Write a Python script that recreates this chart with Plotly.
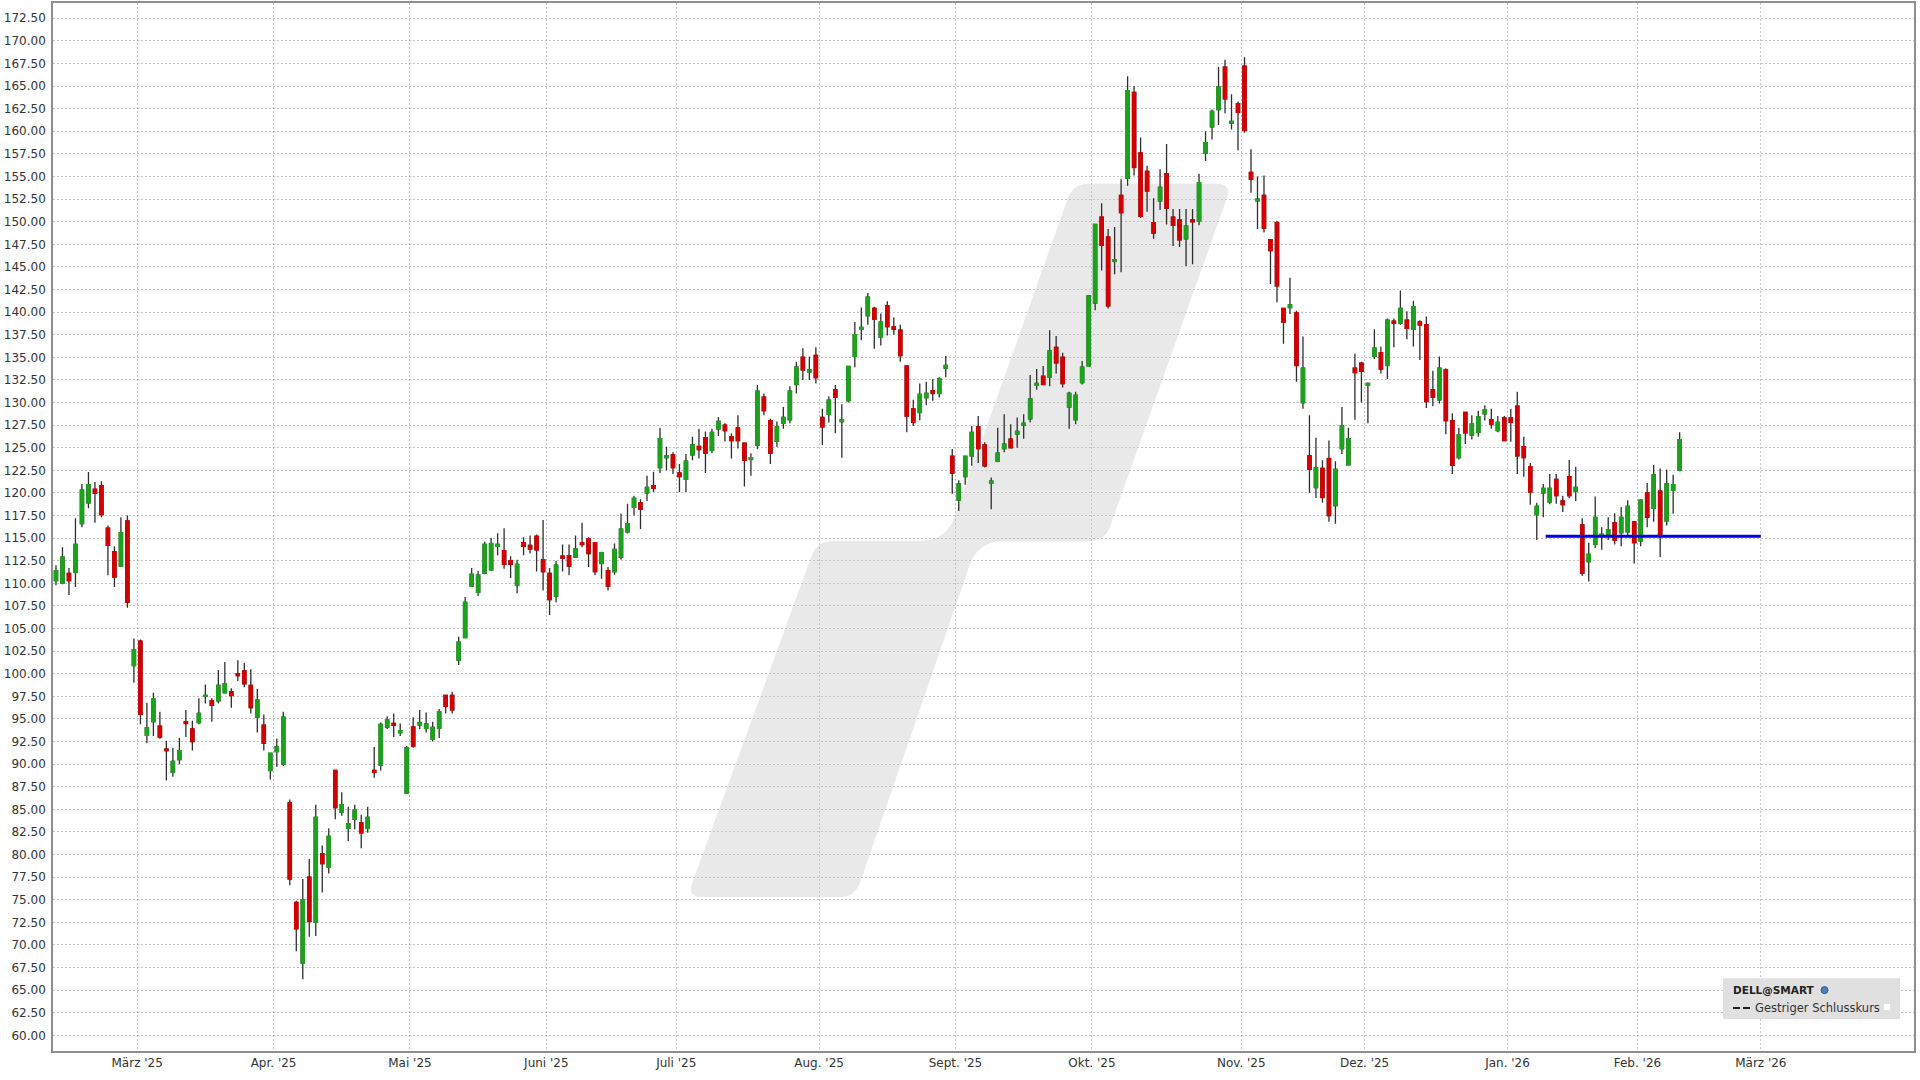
import math

import pandas as pd
import plotly.graph_objects as go


FIRST_DAY = "2025-02-11"
LAST_DAY = "2026-02-10"
HOLIDAYS = [
    "2025-02-17", "2025-04-18", "2025-05-26", "2025-06-19", "2025-07-04",
    "2025-09-01", "2025-11-27", "2025-12-25", "2026-01-01", "2026-01-19",
    "2026-02-16", "2026-04-03",
]

OPEN = [
    110.3, 110.0, 111.1, 111.2, 116.6, 118.9, 120.4, 120.8, 116.1, 113.5,
    111.9, 116.9, 100.9, 103.6, 93.2, 94.7, 94.2, 91.65, 89.1, 90.5,
    94.7, 93.9, 94.6, 97.5, 97.0, 97.0, 97.9, 98.0, 100.0, 100.3,
    98.7, 95.2, 94.3, 89.3, 91.4, 90.0, 85.7, 74.7, 68.0, 77.5,
    72.5, 80.1, 78.6, 89.3, 84.7, 82.9, 83.9, 83.5, 82.9, 89.3,
    89.9, 94.1, 94.5, 93.5, 86.8, 94.1, 94.35, 93.97, 92.76, 93.97,
    97.6, 97.6, 101.5, 104.0, 109.7, 109.0, 111.1, 111.5, 114.1, 113.6,
    112.5, 109.8, 114.5, 114.2, 115.2, 112.6, 111.1, 108.6, 113.0, 113.05,
    112.9, 114.5, 114.9, 114.5, 112.2, 111.4, 111.3, 112.9, 115.7, 118.4,
    118.9, 120.0, 120.8, 122.8, 123.9, 124.2, 122.2, 121.5, 124.2, 125.15,
    126.1, 124.7, 127.1, 127.5, 126.2, 127.2, 125.5, 123.7, 125.3, 130.6,
    128.0, 125.7, 127.7, 128.1, 132.0, 135.0, 133.4, 135.2, 128.35, 128.7,
    131.4, 127.9, 130.2, 135.1, 138.1, 139.6, 140.4, 137.2, 140.7, 138.35,
    138.0, 134.05, 129.3, 128.9, 130.55, 131.3, 131.0, 133.8, 124.05, 119.2,
    121.8, 124.1, 127.3, 125.3, 121.1, 123.5, 124.9, 125.95, 126.5, 127.5,
    128.2, 131.9, 132.9, 132.8, 136.1, 135.0, 129.5, 128.1, 132.2, 134.05,
    141.0, 150.5, 148.3, 145.6, 152.9, 154.8, 164.3, 157.6, 155.55, 149.9,
    152.3, 155.3, 150.5, 150.2, 148.1, 150.2, 150.1, 157.6, 160.5, 162.4,
    167.1, 160.9, 163.05, 167.2, 155.45, 152.3, 152.9, 148.0, 149.9, 140.4,
    140.5, 139.9, 130.0, 124.1, 120.6, 122.7, 123.8, 118.6, 124.9, 123.1,
    133.8, 134.35, 131.9, 135.1, 135.5, 134.1, 139.0, 138.75, 139.1, 138.1,
    138.9, 138.6, 131.4, 130.3, 133.6, 128.0, 123.9, 128.9, 126.4, 126.7,
    128.75, 128.1, 126.9, 128.3, 128.3, 129.6, 125.1, 122.9, 117.6, 120.0,
    119.0, 121.5, 119.1, 121.8, 120.2, 116.45, 112.4, 114.3, 115.2, 115.35,
    116.7, 115.6, 115.7, 116.8, 114.7, 120.0, 118.3, 120.2, 116.9, 120.3,
    122.5,
]
HIGH = [
    112.0, 114.0, 111.7, 117.2, 121.0, 122.3, 121.2, 121.3, 116.4, 114.1,
    117.3, 117.5, 103.9, 103.8, 96.8, 97.9, 95.8, 92.6, 91.8, 92.9,
    96.0, 94.8, 97.3, 98.8, 97.3, 100.4, 101.3, 98.4, 101.5, 101.2,
    100.5, 98.3, 95.5, 91.2, 92.8, 95.8, 86.1, 74.9, 77.3, 79.5,
    85.5, 81.0, 82.9, 89.3, 86.9, 85.3, 85.5, 84.4, 85.3, 91.9,
    94.6, 95.3, 95.6, 94.5, 92.0, 95.2, 96.0, 95.7, 94.7, 96.1,
    97.6, 98.0, 104.1, 108.5, 111.7, 111.4, 114.6, 115.0, 115.55, 116.1,
    113.0, 112.6, 115.1, 115.3, 115.4, 117.0, 111.7, 112.5, 114.3, 114.3,
    115.3, 116.7, 115.1, 114.5, 113.5, 111.8, 114.4, 117.7, 118.8, 119.7,
    119.3, 121.9, 122.35, 127.2, 125.1, 124.5, 123.2, 124.3, 126.2, 127.1,
    126.8, 127.1, 128.4, 127.7, 126.6, 128.6, 125.5, 124.4, 131.95, 131.0,
    128.2, 127.9, 129.5, 131.8, 134.5, 136.0, 135.1, 136.1, 129.3, 130.7,
    131.95, 129.8, 134.0, 138.9, 140.5, 142.1, 140.6, 139.85, 141.2, 139.4,
    138.6, 134.05, 130.3, 132.1, 132.3, 132.6, 132.8, 135.15, 124.85, 121.4,
    124.05, 127.4, 128.5, 125.6, 121.7, 127.2, 128.7, 127.6, 128.35, 128.7,
    133.05, 133.7, 134.05, 138.0, 137.35, 135.5, 131.2, 131.2, 134.6, 141.8,
    149.7, 152.05, 149.2, 149.4, 154.7, 166.1, 165.0, 159.3, 156.2, 152.6,
    155.8, 158.6, 151.4, 151.4, 151.4, 151.4, 155.3, 160.0, 162.4, 167.1,
    167.9, 164.1, 163.3, 168.2, 158.0, 155.0, 155.1, 148.0, 150.1, 140.4,
    143.8, 140.15, 137.3, 128.6, 126.1, 123.6, 125.8, 123.5, 129.5, 127.2,
    135.4, 134.5, 132.2, 138.1, 136.2, 139.3, 139.3, 142.4, 140.1, 141.25,
    139.1, 139.5, 133.5, 135.1, 133.8, 128.8, 127.2, 128.9, 128.6, 129.1,
    129.7, 129.3, 128.5, 128.5, 129.3, 131.2, 126.2, 123.3, 118.9, 121.0,
    122.1, 122.1, 119.7, 123.65, 122.9, 117.2, 114.5, 119.6, 116.2, 117.3,
    117.75, 118.45, 119.2, 116.9, 119.3, 121.1, 123.1, 122.7, 122.6, 122.0,
    126.7,
]
LOW = [
    109.8, 109.9, 108.7, 109.6, 116.2, 118.3, 116.7, 117.3, 110.9, 109.6,
    111.9, 107.3, 99.0, 94.4, 92.3, 93.1, 92.8, 88.2, 88.6, 90.0,
    93.0, 91.5, 94.4, 96.7, 94.7, 96.7, 97.8, 96.25, 99.2, 98.5,
    95.6, 93.5, 91.5, 88.3, 89.7, 89.8, 76.6, 69.3, 66.2, 70.9,
    71.0, 75.8, 77.9, 83.9, 84.3, 81.5, 82.8, 80.7, 82.4, 88.5,
    89.3, 93.9, 93.0, 93.1, 86.7, 91.8, 93.9, 93.5, 92.5, 92.9,
    95.6, 95.6, 100.96, 104.0, 109.7, 108.6, 111.0, 111.5, 113.1, 111.6,
    110.6, 108.9, 113.1, 113.3, 111.3, 109.2, 106.5, 107.9, 111.3, 110.9,
    112.9, 114.0, 111.8, 110.9, 110.5, 109.2, 110.96, 112.6, 115.5, 117.5,
    116.0, 119.1, 120.1, 122.2, 122.5, 122.1, 120.1, 120.1, 123.6, 123.8,
    122.2, 124.4, 126.3, 125.7, 123.8, 124.9, 120.7, 121.9, 124.85, 128.6,
    123.2, 125.1, 127.1, 127.7, 131.0, 132.5, 132.5, 132.1, 125.3, 127.8,
    126.6, 123.9, 130.0, 133.9, 136.9, 138.6, 135.95, 136.3, 137.4, 137.5,
    134.5, 126.7, 127.4, 128.05, 129.7, 130.2, 130.55, 132.8, 119.9, 118.0,
    120.9, 123.0, 123.3, 122.8, 118.2, 123.4, 124.5, 125.0, 125.0, 126.0,
    127.8, 131.4, 132.0, 131.8, 133.2, 131.65, 127.1, 127.6, 132.0, 134.05,
    140.2, 144.6, 140.4, 144.2, 144.4, 153.97, 155.1, 150.4, 151.1, 148.1,
    151.3, 149.7, 147.3, 147.2, 145.1, 145.3, 149.6, 156.7, 159.1, 160.7,
    162.0, 160.2, 157.9, 159.85, 153.2, 149.2, 148.8, 143.1, 141.1, 136.5,
    139.8, 132.3, 129.3, 120.0, 119.45, 118.9, 116.8, 116.6, 124.3, 123.05,
    128.1, 130.0, 127.7, 134.8, 133.2, 132.6, 136.1, 138.6, 137.0, 136.2,
    134.7, 129.4, 129.6, 129.9, 126.5, 122.1, 123.7, 125.4, 125.9, 126.2,
    128.0, 127.1, 126.7, 125.75, 125.65, 122.1, 121.8, 118.7, 114.8, 117.3,
    118.75, 118.8, 117.9, 119.4, 119.1, 110.8, 110.2, 113.9, 113.7, 114.8,
    114.3, 114.1, 115.2, 112.2, 114.1, 116.2, 116.8, 112.9, 116.4, 117.7,
    122.4,
]
CLOSE = [
    111.4, 112.9, 110.3, 114.3, 120.3, 120.9, 119.95, 117.6, 114.2, 110.7,
    115.6, 107.9, 102.65, 95.5, 94.0, 97.2, 93.0, 91.5, 90.3, 91.5,
    94.5, 92.5, 95.6, 97.6, 96.5, 98.7, 98.9, 97.6, 99.8, 98.9,
    96.25, 97.1, 92.3, 91.2, 91.9, 95.2, 77.3, 71.8, 75.0, 72.6,
    84.1, 79.0, 82.0, 85.2, 85.5, 83.4, 84.9, 82.4, 84.1, 89.1,
    94.4, 94.9, 94.3, 93.7, 91.8, 92.0, 94.6, 94.45, 94.05, 95.8,
    96.4, 96.0, 103.5, 107.9, 111.0, 110.9, 114.3, 114.4, 114.3, 112.1,
    112.1, 112.1, 114.1, 113.8, 113.7, 111.3, 108.2, 112.0, 112.8, 111.9,
    113.8, 114.3, 113.3, 111.3, 113.4, 109.7, 113.75, 116.0, 116.6, 119.4,
    118.2, 120.6, 120.5, 126.0, 124.1, 122.8, 121.8, 123.5, 125.3, 124.8,
    124.4, 126.7, 127.9, 126.9, 125.8, 125.8, 123.6, 123.9, 131.25, 129.1,
    124.4, 127.3, 128.35, 131.25, 133.9, 133.6, 133.6, 132.75, 127.3, 130.25,
    130.6, 128.1, 134.0, 137.5, 138.3, 141.65, 139.2, 138.9, 138.4, 138.1,
    135.2, 128.5, 127.8, 130.9, 131.0, 131.0, 132.6, 134.1, 122.2, 121.0,
    124.05, 126.7, 124.9, 123.0, 121.3, 124.4, 125.4, 125.0, 126.8, 127.7,
    130.4, 132.1, 132.0, 135.7, 134.4, 132.1, 131.0, 130.8, 133.9, 141.8,
    149.7, 147.4, 140.7, 145.8, 151.0, 164.5, 156.0, 150.6, 153.4, 148.75,
    153.8, 151.5, 149.6, 148.0, 149.5, 150.0, 154.3, 158.75, 162.2, 164.9,
    163.6, 161.1, 162.1, 160.1, 154.7, 152.5, 149.3, 146.8, 142.9, 138.9,
    140.8, 134.1, 133.8, 122.6, 122.8, 119.5, 117.5, 122.6, 127.4, 126.0,
    133.3, 133.45, 132.1, 136.0, 133.7, 139.1, 138.75, 140.4, 138.2, 140.6,
    138.6, 130.1, 130.6, 133.8, 128.0, 123.05, 126.4, 126.65, 127.6, 128.4,
    129.2, 127.6, 127.8, 125.8, 127.8, 124.1, 123.9, 120.1, 118.5, 120.5,
    120.5, 119.7, 118.7, 119.7, 120.6, 111.1, 113.2, 117.3, 115.4, 115.9,
    114.8, 117.3, 118.5, 114.5, 119.2, 117.3, 122.0, 115.4, 121.0, 120.9,
    125.9,
]

# Gestriger Schlusskurs (blaue Linie)
LEVEL = 115.2
LEVEL_FROM = "2026-01-09 21:00"
LEVEL_TO = "2026-03-02 00:00"

MONTH_TICKS = [
    "2025-03-03", "2025-04-01", "2025-05-01", "2025-06-02", "2025-07-01",
    "2025-08-01", "2025-09-02", "2025-10-01", "2025-11-03", "2025-12-01",
    "2026-01-02", "2026-02-02", "2026-03-02",
]
MONTH_LABELS = [
    "März '25", "Apr. '25", "Mai '25", "Juni '25", "Juli '25", "Aug. '25",
    "Sept. '25", "Okt. '25", "Nov. '25", "Dez. '25", "Jan. '26", "Feb. '26",
    "März '26",
]

# ── Stil ────────────────────────────────────────────────────────────────────

GREEN = "#1ba31b"
RED = "#d40000"
WICK = "#2e2e2e"
GRID = "#c2c2c2"
AXIS = "#8f8f8f"
FONT = "DejaVu Sans"

# Plotfläche in Pixeln (für Wasserzeichen / Legendenbox)
PLOT_L, PLOT_R, PLOT_T, PLOT_B = 53, 1914, 1, 1051


def px(x):
    return (x - PLOT_L) / (PLOT_R - PLOT_L)


def py(y):
    return (PLOT_B - y) / (PLOT_B - PLOT_T)


def rounded_path(pts, radii):
    """Polygon (Pixel) mit abgerundeten Ecken -> SVG-Pfad in Paper-Koordinaten."""
    cmds = []
    n = len(pts)
    for i in range(n):
        x, y = pts[i]
        r = radii[i]
        ax, ay = pts[i - 1]
        bx, by = pts[(i + 1) % n]
        la = math.hypot(ax - x, ay - y)
        lb = math.hypot(bx - x, by - y)
        ix, iy = x + (ax - x) * r / la, y + (ay - y) * r / la
        ox, oy = x + (bx - x) * r / lb, y + (by - y) * r / lb
        cmds.append(("L" if cmds else "M") + f"{px(ix):.5f},{py(iy):.5f}")
        cmds.append(f"Q{px(x):.5f},{py(y):.5f} {px(ox):.5f},{py(oy):.5f}")
    return " ".join(cmds) + " Z"


# ── Figur ───────────────────────────────────────────────────────────────────

dates = pd.bdate_range(FIRST_DAY, LAST_DAY, freq="C", holidays=HOLIDAYS) + pd.Timedelta(hours=12)
body_top = [max(o, c) for o, c in zip(OPEN, CLOSE)]
body_bot = [min(o, c) for o, c in zip(OPEN, CLOSE)]

fig = go.Figure()

# Dochte (schwarz)
fig.add_trace(go.Candlestick(
    x=dates, open=OPEN, high=HIGH, low=LOW, close=CLOSE,
    increasing=dict(line=dict(color=WICK, width=1.3), fillcolor=WICK),
    decreasing=dict(line=dict(color=WICK, width=1.3), fillcolor=WICK),
    hoverinfo="skip", showlegend=False,
))
# Kerzenkörper (grün / rot)
fig.add_trace(go.Candlestick(
    x=dates, open=OPEN, high=body_top, low=body_bot, close=CLOSE,
    increasing=dict(line=dict(color=GREEN, width=1.4), fillcolor=GREEN),
    decreasing=dict(line=dict(color=RED, width=1.4), fillcolor=RED),
    showlegend=False, name="DELL",
))
fig.add_trace(go.Scatter(
    x=[LEVEL_FROM, LEVEL_TO], y=[LEVEL, LEVEL], mode="lines",
    line=dict(color="#0000e6", width=3), showlegend=False, hoverinfo="skip",
))

# Wasserzeichen
watermark = [(687, 897), (855, 897), (978, 540), (1105, 540),
             (1232, 182), (1073, 182), (946, 540), (817, 540)]
fig.add_shape(
    type="path", xref="paper", yref="paper",
    path=rounded_path(watermark, [16, 16, 26, 16, 16, 16, 26, 16]),
    fillcolor="#e9e9e9", line=dict(width=0), layer="below",
)

# Legendenbox unten rechts
fig.add_shape(type="rect", xref="paper", yref="paper",
              x0=px(1723), x1=px(1900), y0=py(1019), y1=py(978),
              fillcolor="#e0e0e0", line=dict(width=0), layer="above")
fig.add_shape(type="circle", xref="paper", yref="paper",
              x0=px(1821), x1=px(1828), y0=py(993.5), y1=py(986.5),
              fillcolor="#4a7fb8", line=dict(color="#2c5d8f", width=1), layer="above")
fig.add_shape(type="line", xref="paper", yref="paper",
              x0=px(1733), x1=px(1750), y0=py(1008), y1=py(1008),
              line=dict(color="#222222", width=2, dash="7px,3px"), layer="above")
fig.add_shape(type="rect", xref="paper", yref="paper",
              x0=px(1884), x1=px(1890), y0=py(1010), y1=py(1004),
              fillcolor="#ffffff", line=dict(width=0), layer="above")
fig.add_annotation(x=px(1731), y=py(990), xref="paper", yref="paper",
                   text="<b>DELL@SMART</b>", showarrow=False,
                   xanchor="left", yanchor="middle",
                   font=dict(family=FONT, size=10.5, color="#222222"))
fig.add_annotation(x=px(1753), y=py(1008), xref="paper", yref="paper",
                   text="Gestriger Schlusskurs", showarrow=False,
                   xanchor="left", yanchor="middle",
                   font=dict(family=FONT, size=11.5, color="#333333"))

fig.update_layout(
    width=1920, height=1080,
    margin=dict(l=PLOT_L, r=1920 - PLOT_R, t=PLOT_T, b=1080 - PLOT_B),
    paper_bgcolor="white", plot_bgcolor="white",
    font=dict(family=FONT, size=12, color="#333333"),
    showlegend=False,
    hovermode="x",
)
fig.update_xaxes(
    type="date",
    range=["2025-02-11 01:00", "2026-04-02 14:00"],
    rangebreaks=[dict(bounds=["sat", "mon"]), dict(values=HOLIDAYS)],
    rangeslider=dict(visible=False),
    tickmode="array", tickvals=MONTH_TICKS, ticktext=MONTH_LABELS,
    showgrid=True, gridcolor=GRID, griddash="2px,2px", gridwidth=1,
    showline=True, linecolor=AXIS, linewidth=1.5, mirror=True,
    ticks="", tickfont=dict(family=FONT, size=12, color="#333333"),
    zeroline=False,
)
fig.update_yaxes(
    range=[58.27, 174.19],
    tick0=60, dtick=2.5, tickformat=".2f",
    showgrid=True, gridcolor=GRID, griddash="2px,2px", gridwidth=1,
    showline=True, linecolor=AXIS, linewidth=1.5, mirror=True,
    ticks="outside", ticklen=3, tickcolor="rgba(0,0,0,0)",
    tickfont=dict(family=FONT, size=12, color="#333333"),
    zeroline=False,
)

fig.write_html(
    "out.html",
    config={"displayModeBar": False},
    post_script="document.body.style.margin='0';",
)
